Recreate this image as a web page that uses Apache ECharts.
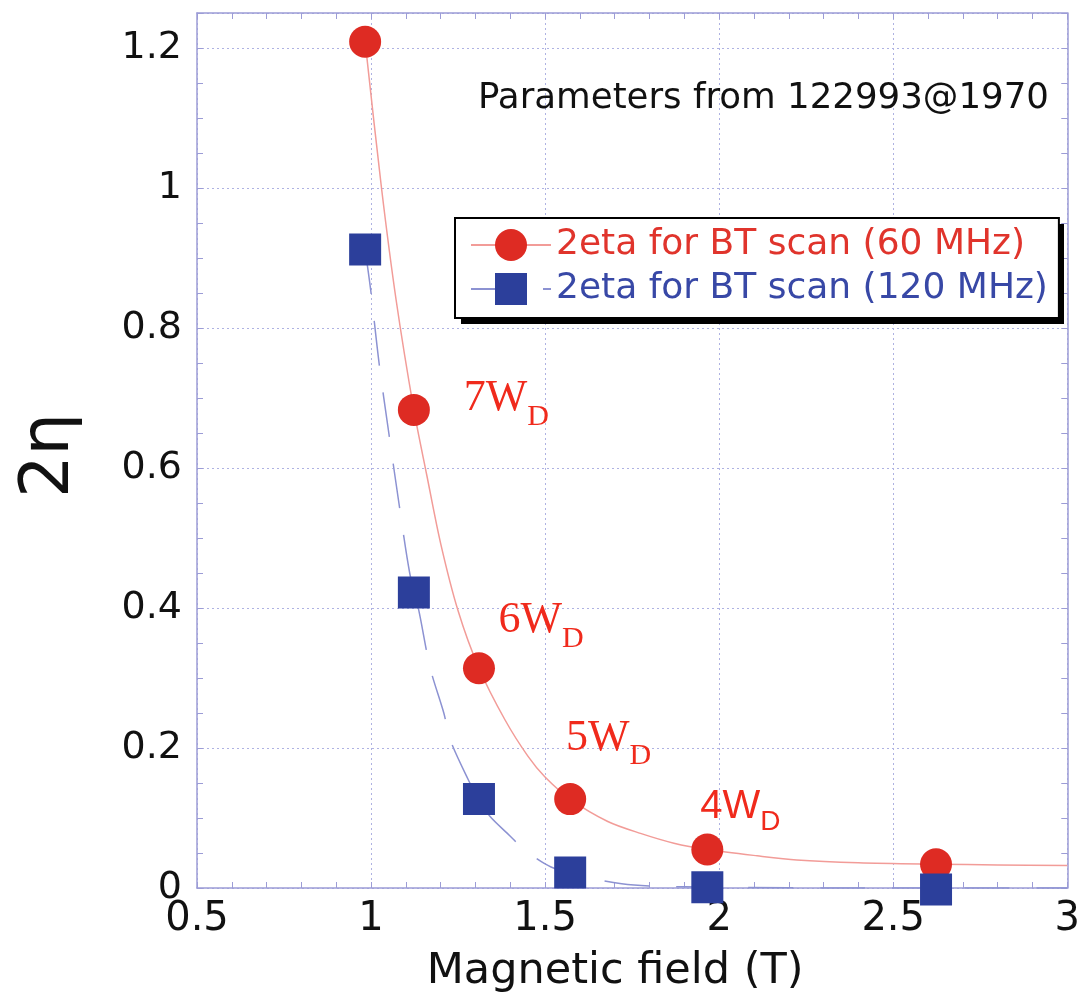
<!DOCTYPE html>
<html>
<head>
    <meta charset="utf-8">
    <title>2eta vs magnetic field</title>
    <script src="https://cdn.jsdelivr.net/npm/echarts@6.0.0/dist/echarts.min.js"></script>
    <style>
        html, body { margin: 0; padding: 0; background: #fff; }
        #main { width: 1083px; height: 1005px; }
    </style>
</head>
<body>
<div id="main"></div>
<script>
    // measured points (same field values for both frequencies)
    var bField = [0.983, 1.123, 1.31, 1.572, 1.966, 2.623];
    var eta60 = [1.209, 0.683, 0.314, 0.127, 0.055, 0.034];
    var eta120 = [0.912, 0.422, 0.127, 0.022, 0.001, -0.002];

    // fitted curves
    var fit60B = [0.983, 1.03, 1.072, 1.123, 1.16, 1.2, 1.25, 1.31, 1.385, 1.451, 1.499, 1.572, 1.68, 1.774, 1.87, 1.966, 2.109, 2.223, 2.4, 2.623, 2.8, 3.0];
    var fit60Eta = [1.209, 1.0, 0.84, 0.683, 0.59, 0.492, 0.396, 0.314, 0.24, 0.188, 0.159, 0.127, 0.095, 0.078, 0.064, 0.055, 0.046, 0.040, 0.036, 0.034, 0.033, 0.032];
    var fit120B = [0.983, 0.999, 1.023, 1.051, 1.08, 1.111, 1.137, 1.17, 1.209, 1.228, 1.28, 1.31, 1.342, 1.4, 1.442, 1.517, 1.62, 1.72, 1.8, 2.0, 2.4, 3.0];
    var fit120Eta = [0.912, 0.854, 0.75, 0.65, 0.55, 0.45, 0.397, 0.314, 0.25, 0.211, 0.154, 0.126, 0.102, 0.074, 0.054, 0.03, 0.015, 0.006, 0.003, 0.001, 0, 0];

    // W_D annotations (anchor = left / middle of the label box)
    var annoB = [1.266, 1.366, 1.56, 1.946];
    var annoEta = [0.691, 0.374, 0.206, 0.109];
    var annoMain = ['7W', '6W', '5W', '4W'];
    var annoSub = ['D', 'D', 'D', 'D'];

    var xTicks = [0.5, 3, 0.5, 0.1];   // min, max, major, minor
    var yTicks = [0, 1.25, 0.2, 0.05];

    var name60 = '2eta for BT scan (60 MHz)';
    var name120 = '2eta for BT scan (120 MHz)';

    var RED = '#de2b23', BLUE = '#2c3f9b', ANNO = '#f02a1c';
    var FRAME = '#9c9cd6', GRIDC = '#aeb2e2';
    var SANS = 'DejaVu Sans';

    function pairs(xs, ys) {
        return xs.map(function (x, i) { return [x, ys[i]]; });
    }

    var myChart = echarts.init(document.getElementById('main'));

    function tickAxis(pos, t, withLine) {
        return {
            type: 'value', position: pos, min: t[0], max: t[1], interval: t[3],
            axisLine: { show: withLine, onZero: false, lineStyle: { color: FRAME, width: 1.5 } },
            axisTick: { show: true, inside: true, length: 6, lineStyle: { color: FRAME, width: 1 } },
            axisLabel: { show: false },
            splitLine: { show: false }
        };
    }

    myChart.setOption({
        animation: false,
        backgroundColor: '#fff',
        grid: { left: 197, top: 13, right: 11, bottom: 117 },
        legend: {
            orient: 'vertical',
            left: 455, top: 218,
            padding: [9, 11, 11, 15],
            itemWidth: 80, itemHeight: 40, itemGap: 8,
            selectedMode: false,
            backgroundColor: '#fff',
            borderColor: '#000', borderWidth: 2,
            textStyle: { fontFamily: SANS, fontSize: 36 },
            data: [
                { name: name60, textStyle: { color: '#e0342c' } },
                { name: name120, textStyle: { color: '#3848a6' } }
            ]
        },
        graphic: [
            {
                // drop shadow behind the legend box
                type: 'rect', left: 461, top: 224, z: 3,
                shape: { width: 603, height: 100 },
                style: { fill: '#000' }
            },
            {
                type: 'text', left: 478, top: 81, z: 3,
                style: { text: 'Parameters from 122993@1970', font: '35.6px "DejaVu Sans"', fill: '#111' }
            }
        ],
        xAxis: [{
            type: 'value', position: 'bottom', min: xTicks[0], max: xTicks[1], interval: xTicks[2],
            name: 'Magnetic field (T)', nameLocation: 'middle', nameGap: 62,
            nameTextStyle: { fontFamily: SANS, fontSize: 43, color: '#111', padding: [0, 34, 0, 0] },
            axisLine: { show: true, onZero: false, lineStyle: { color: FRAME, width: 1.5 } },
            axisTick: { show: false },
            axisLabel: { fontFamily: SANS, fontSize: 40, color: '#111', margin: 12 },
            splitLine: { show: true, lineStyle: { color: GRIDC, type: [2, 3], width: 1 } }
        },
            tickAxis('bottom', xTicks, false),
            tickAxis('top', xTicks, true)
        ],
        yAxis: [{
            type: 'value', position: 'left', min: yTicks[0], max: yTicks[1], interval: yTicks[2],
            name: '2η', nameLocation: 'middle', nameGap: 113, nameRotate: 90,
            nameTextStyle: { fontFamily: SANS, fontSize: 67, color: '#111', padding: [0, 10, 0, 0] },
            axisLine: { show: true, onZero: false, lineStyle: { color: FRAME, width: 1.5 } },
            axisTick: { show: false },
            axisLabel: { fontFamily: SANS, fontSize: 38, color: '#111', margin: 15, showMaxLabel: false },
            splitLine: { show: true, lineStyle: { color: GRIDC, type: [2, 3], width: 1 } }
        },
            tickAxis('left', yTicks, false),
            tickAxis('right', yTicks, true)
        ],
        series: [
            {
                name: name60, type: 'line',
                data: pairs(fit60B, fit60Eta),
                smooth: 0.3, showSymbol: false, symbol: 'circle',
                itemStyle: { color: RED },
                lineStyle: { color: '#f29c98', width: 1.5 },
                z: 2
            },
            {
                name: name120, type: 'line',
                data: pairs(fit120B, fit120Eta),
                smooth: 0.3, showSymbol: false, symbol: 'rect',
                itemStyle: { color: BLUE },
                lineStyle: { color: '#8c92d2', width: 1.5, type: [45, 27] },
                z: 2
            },
            {
                name: '60 MHz points', type: 'scatter', clip: false,
                data: pairs(bField, eta60),
                symbol: 'circle', symbolSize: 32,
                itemStyle: { color: RED, opacity: 1 },
                z: 3
            },
            {
                name: '120 MHz points', type: 'scatter', clip: false,
                data: pairs(bField, eta120),
                symbol: 'rect', symbolSize: 32,
                itemStyle: { color: BLUE, opacity: 1 },
                z: 4
            },
            {
                name: 'labels', type: 'scatter', clip: false,
                data: pairs(annoB, annoEta),
                symbolSize: 0.01,
                itemStyle: { color: '#fff', opacity: 1 },
                silent: true,
                label: {
                    show: true, position: 'right', distance: 0,
                    formatter: function (p) {
                        var i = p.dataIndex;
                        // the last one is set in a sans face in the original
                        if (i === 3) return '{ms|' + annoMain[i] + '}{ss|' + annoSub[i] + '}';
                        return '{m|' + annoMain[i] + '}{s|' + annoSub[i] + '}';
                    },
                    rich: {
                        m: { fontFamily: 'Liberation Serif', fontSize: 44, color: ANNO, lineHeight: 55, verticalAlign: 'top' },
                        s: { fontFamily: 'Liberation Serif', fontSize: 30, color: ANNO, lineHeight: 16, verticalAlign: 'bottom' },
                        ms: { fontFamily: 'Liberation Sans', fontSize: 40, color: ANNO, lineHeight: 50, verticalAlign: 'top' },
                        ss: { fontFamily: 'Liberation Sans', fontSize: 28, color: ANNO, lineHeight: 16, verticalAlign: 'bottom' }
                    }
                },
                z: 5
            }
        ]
    });
</script>
</body>
</html>
